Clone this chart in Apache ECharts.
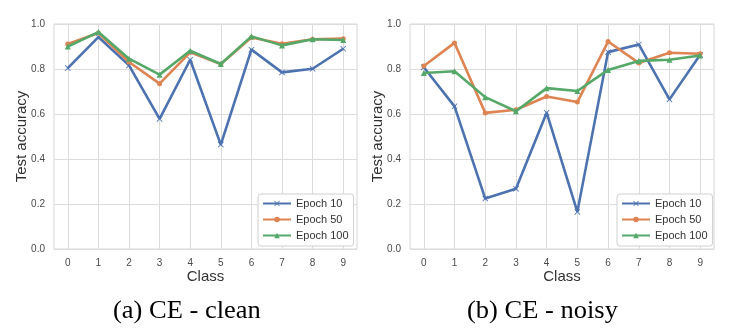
<!DOCTYPE html>
<html><head><meta charset="utf-8">
<script src="https://cdn.jsdelivr.net/npm/echarts@6/dist/echarts.min.js"></script>
<style>html,body{margin:0;padding:0;background:#fff}#c{width:737px;height:336px}</style>
</head><body><div id="c"></div>
<script>
const classes = [0,1,2,3,4,5,6,7,8,9];
const yTicks = [0, 0.2, 0.4, 0.6, 0.8, 1.0];
const seriesNames = ['Epoch 10', 'Epoch 50', 'Epoch 100'];
const cleanEpoch10  = [0.804, 0.942, 0.816, 0.578, 0.841, 0.464, 0.886, 0.785, 0.801, 0.890];
const cleanEpoch50  = [0.911, 0.960, 0.831, 0.735, 0.874, 0.822, 0.940, 0.912, 0.932, 0.935];
const cleanEpoch100 = [0.900, 0.964, 0.846, 0.775, 0.881, 0.822, 0.945, 0.905, 0.932, 0.929];
const noisyEpoch10  = [0.808, 0.634, 0.224, 0.268, 0.606, 0.165, 0.875, 0.909, 0.665, 0.863];
const noisyEpoch50  = [0.813, 0.916, 0.605, 0.619, 0.678, 0.653, 0.922, 0.827, 0.872, 0.868];
const noisyEpoch100 = [0.782, 0.790, 0.675, 0.612, 0.715, 0.702, 0.796, 0.836, 0.841, 0.860];
const captions = ['(a) CE - clean', '(b) CE - noisy'];

const colors = ['#4C72B0', '#DD8452', '#55A868'];
const symbols = ['path://M0,1L1,0L5,4L9,0L10,1L6,5L10,9L9,10L5,6L1,10L0,9L4,5Z', 'circle', 'triangle'];
const symSizes = [6, 5, 6];
const font = 'Liberation Sans';

function mkSeries(arrs, idx) {
  return arrs.map((d, i) => ({
    name: seriesNames[i], type: 'line', xAxisIndex: idx, yAxisIndex: idx,
    data: classes.map((c, k) => [c, d[k]]),
    symbol: symbols[i], symbolSize: symSizes[i], showSymbol: true,
    lineStyle: { color: colors[i], width: 2.6 },
    itemStyle: { color: colors[i] },
    z: 2 + i, animation: false
  }));
}
function xAx(idx) {
  return { type: 'value', gridIndex: idx, min: -0.45, max: 9.45,
    name: 'Class', nameLocation: 'middle', nameGap: 20, nameMoveOverlap: false,
    nameTextStyle: { fontFamily: font, fontSize: 15, color: '#333' },
    axisLine: { show: false }, axisTick: { show: false, customValues: classes },
    axisLabel: { customValues: classes, fontFamily: font, fontSize: 10, color: '#4a4a4a', margin: 9 },
    splitLine: { show: true, lineStyle: { color: '#dcdcdc', width: 1 } } };
}
function yAx(idx) {
  return { type: 'value', gridIndex: idx, min: 0, max: 1, interval: 0.2,
    name: 'Test accuracy', nameLocation: 'middle', nameGap: 25, nameMoveOverlap: false,
    nameTextStyle: { fontFamily: font, fontSize: 15, color: '#333' },
    axisLine: { show: false }, axisTick: { show: false },
    axisLabel: { fontFamily: font, fontSize: 10, color: '#4a4a4a', margin: 9, formatter: v => v.toFixed(1) },
    splitLine: { show: true, lineStyle: { color: '#dcdcdc', width: 1 } } };
}
function legend(left) {
  return { data: seriesNames, orient: 'vertical', left: left, top: 194,
    backgroundColor: '#fff', borderColor: '#d0d0d0', borderWidth: 1, borderRadius: 3,
    padding: [4, 5, 5, 4], itemGap: 5, itemWidth: 28, itemHeight: 7,
    textStyle: { fontFamily: font, fontSize: 11, color: '#333', lineHeight: 10 } };
}
const chart = echarts.init(document.getElementById('c'), null, { renderer: 'canvas' });
chart.setOption({
  animation: false,
  backgroundColor: '#fff',
  grid: [
    { left: 54, right: 380, top: 24, bottom: 87, show: true, borderColor: '#d6d6d6', borderWidth: 1 },
    { left: 410, right: 23, top: 24, bottom: 87, show: true, borderColor: '#d6d6d6', borderWidth: 1 }
  ],
  xAxis: [xAx(0), xAx(1)],
  yAxis: [yAx(0), yAx(1)],
  legend: [legend(258), legend(617)],
  series: mkSeries([cleanEpoch10, cleanEpoch50, cleanEpoch100], 0)
    .concat(mkSeries([noisyEpoch10, noisyEpoch50, noisyEpoch100], 1)),
  graphic: [
    { type: 'text', x: 113, y: 299, scaleX: 1.06, style: { text: captions[0], font: '25px "Liberation Serif"', fill: '#000' } },
    { type: 'text', x: 467, y: 299, scaleX: 1.06, style: { text: captions[1], font: '25px "Liberation Serif"', fill: '#000' } }
  ]
});
</script></body></html>
